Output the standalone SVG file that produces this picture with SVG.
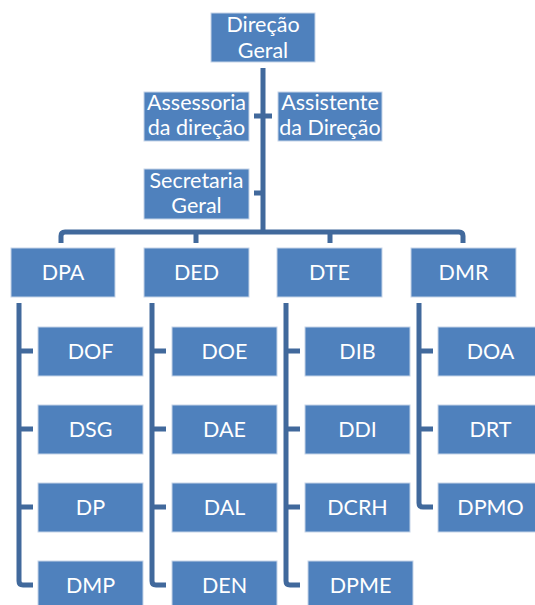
<svg xmlns="http://www.w3.org/2000/svg" width="535" height="605" viewBox="0 0 535 605">
<style>
.box{fill:#4F81BD;stroke:#C5D4E8;stroke-width:1}
.t{fill:#fff;font-family:Lato,"Open Sans","Liberation Sans",sans-serif;font-size:21.5px;text-anchor:middle}
.c{fill:none;stroke:#41699C;stroke-width:5;stroke-linejoin:round}
</style>
<rect width="535" height="605" fill="#fff"/>
<g id="connectors">
<path class="c" d="M263,68 V232"/>
<path class="c" d="M61,243 V236 Q61,232 65,232 H459 Q463,232 463,236 V243"/>
<path class="c" d="M196,232 V243 M330,232 V243"/>
<path class="c" d="M254,116 H272 M254,193 H263"/>
<path class="c" d="M19,303 V581 Q19,585 23,585 H33 M19,351 H33 M19,429 H33 M19,507 H33"/>
<path class="c" d="M152,303 V581 Q152,585 156,585 H166 M152,351 H166 M152,429 H166 M152,507 H166"/>
<path class="c" d="M286,303 V581 Q286,585 290,585 H300 M286,351 H300 M286,429 H300 M286,507 H300"/>
<path class="c" d="M419,303 V503 Q419,507 423,507 H433 M419,351 H433 M419,429 H433"/>
</g>
<g id="n-direcao-geral"><rect class="box" x="211" y="13" width="104" height="49"/><text class="t" x="263" y="32">Direção</text><text class="t" x="263" y="58">Geral</text></g>
<g id="n-assessoria"><rect class="box" x="144" y="92" width="105" height="49"/><text class="t" x="196.5" y="110">Assessoria</text><text class="t" x="196.5" y="135">da direção</text></g>
<g id="n-assistente"><rect class="box" x="278" y="92" width="104" height="49"/><text class="t" x="330" y="110">Assistente</text><text class="t" x="330" y="135">da Direção</text></g>
<g id="n-secretaria"><rect class="box" x="144" y="169" width="105" height="50"/><text class="t" x="196.5" y="188">Secretaria</text><text class="t" x="196.5" y="213">Geral</text></g>
<g id="n-dpa"><rect class="box" x="11" y="248" width="104" height="49"/><text class="t" x="63" y="280">DPA</text></g>
<g id="n-ded"><rect class="box" x="144" y="248" width="105" height="49"/><text class="t" x="196.5" y="280">DED</text></g>
<g id="n-dte"><rect class="box" x="277" y="248" width="105" height="49"/><text class="t" x="329.5" y="280">DTE</text></g>
<g id="n-dmr"><rect class="box" x="411" y="248" width="105" height="49"/><text class="t" x="463.5" y="280">DMR</text></g>
<g id="n-dof"><rect class="box" x="38" y="327" width="105" height="49"/><text class="t" x="90.5" y="359">DOF</text></g>
<g id="n-dsg"><rect class="box" x="38" y="405" width="105" height="49"/><text class="t" x="90.5" y="437">DSG</text></g>
<g id="n-dp"><rect class="box" x="38" y="483" width="105" height="49"/><text class="t" x="90.5" y="515">DP</text></g>
<g id="n-dmp"><rect class="box" x="38" y="561" width="105" height="49"/><text class="t" x="90.5" y="593">DMP</text></g>
<g id="n-doe"><rect class="box" x="172" y="327" width="105" height="49"/><text class="t" x="224.5" y="359">DOE</text></g>
<g id="n-dae"><rect class="box" x="172" y="405" width="105" height="49"/><text class="t" x="224.5" y="437">DAE</text></g>
<g id="n-dal"><rect class="box" x="172" y="483" width="105" height="49"/><text class="t" x="224.5" y="515">DAL</text></g>
<g id="n-den"><rect class="box" x="172" y="561" width="105" height="49"/><text class="t" x="224.5" y="593">DEN</text></g>
<g id="n-dib"><rect class="box" x="305" y="327" width="105" height="49"/><text class="t" x="357.5" y="359">DIB</text></g>
<g id="n-ddi"><rect class="box" x="305" y="405" width="105" height="49"/><text class="t" x="357.5" y="437">DDI</text></g>
<g id="n-dcrh"><rect class="box" x="305" y="483" width="105" height="49"/><text class="t" x="357.5" y="515">DCRH</text></g>
<g id="n-dpme"><rect class="box" x="308" y="561" width="105" height="49"/><text class="t" x="360.5" y="593">DPME</text></g>
<g id="n-doa"><rect class="box" x="438" y="327" width="105" height="49"/><text class="t" x="490.5" y="359">DOA</text></g>
<g id="n-drt"><rect class="box" x="438" y="405" width="105" height="49"/><text class="t" x="490.5" y="437">DRT</text></g>
<g id="n-dpmo"><rect class="box" x="438" y="483" width="105" height="49"/><text class="t" x="490.5" y="515">DPMO</text></g>
</svg>
